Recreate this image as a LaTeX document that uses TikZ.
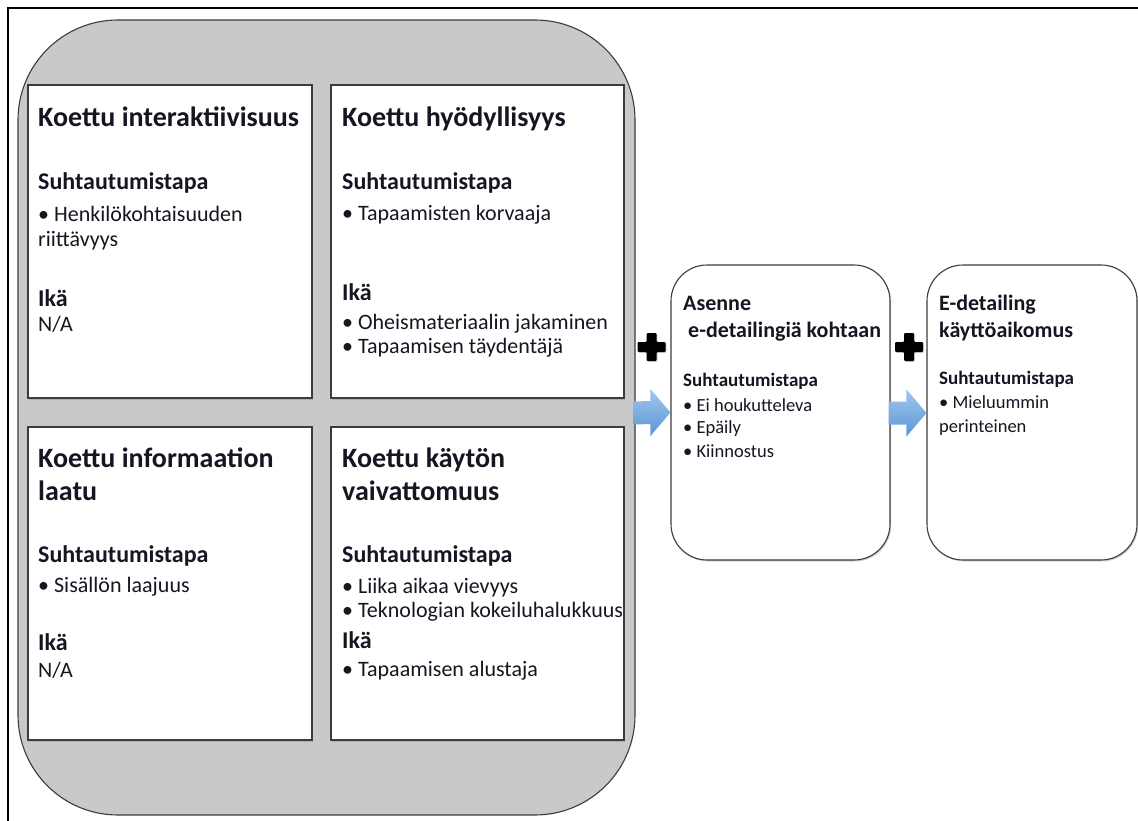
\documentclass[tikz,border=0pt]{standalone}
\usepackage{fontspec}
\setmainfont{Carlito}
\usetikzlibrary{shadows,calc}
\definecolor{panelgray}{RGB}{201,201,201}
\definecolor{edgegray}{RGB}{60,60,60}
\definecolor{txt}{RGB}{22,22,34}
\definecolor{arrowtop}{RGB}{160,198,238}
\definecolor{arrowbot}{RGB}{92,150,214}
\tikzset{
  panel/.style={draw=edgegray, line width=1.1pt, fill=panelgray, rounded corners=100pt, inner sep=0pt},
  card/.style={draw=edgegray, line width=1.1pt, fill=white, inner sep=0pt,
    drop shadow={opacity=0.35, shadow xshift=1.2pt, shadow yshift=-1.5pt}},
  rcard/.style={card, rounded corners=36pt},
  lbl/.style={anchor=base west, inner sep=0pt, text=txt},
  ttl/.style={lbl, font=\bfseries\fontsize{28}{32}\selectfont},
  sub/.style={lbl, font=\bfseries\fontsize{24}{28}\selectfont},
  itm/.style={lbl, font=\fontsize{22}{26}\selectfont},
  rttl/.style={lbl, font=\bfseries\fontsize{22}{26}\selectfont},
  rsub/.style={lbl, font=\bfseries\fontsize{19}{22}\selectfont},
  ritm/.style={lbl, font=\fontsize{18.5}{22}\selectfont},
  bluearrow/.style={top color=arrowtop, bottom color=arrowbot, draw=none},
  plusmark/.style={fill=black, rounded corners=1pt,
    drop shadow={opacity=0.3, shadow xshift=1pt, shadow yshift=-1pt}}
}
\begin{document}
\begin{tikzpicture}[x=1pt,y=-1pt]
\useasboundingbox (0,0) rectangle (1138,821);
\fill[white] (0,0) rectangle (1138,821);
\draw[line width=2.6pt, black] (8,821) -- (8,8) -- (1138,8);

% large grey panel
\node[panel, minimum width=617pt, minimum height=795pt] (big) at (326.5,417.5) {};

% four inner cards
\node[card, minimum width=284pt, minimum height=313pt] (c1) at (170,241.5) {};
\node[card, minimum width=293pt, minimum height=313pt] (c2) at (477.5,241.5) {};
\node[card, minimum width=284pt, minimum height=313pt] (c3) at (170,583.5) {};
\node[card, minimum width=293pt, minimum height=313pt] (c4) at (477.5,583.5) {};

% right cards
\node[rcard, minimum width=219pt, minimum height=295pt] (att) at (780.5,412.5) {};
\node[rcard, minimum width=210pt, minimum height=295pt] (use) at (1032,412.5) {};

% card 1
\node[ttl] (t1) at (38,127) {Koettu interaktiivisuus};
\node[sub] (s1) at (38,190) {Suhtautumistapa};
\node[itm] (i1a) at (38,222) {• Henkilökohtaisuuden};
\node[itm] (i1b) at (38,247) {riittävyys};
\node[sub] (k1) at (38,306) {Ikä};
\node[itm] (n1) at (38,331) {N/A};

% card 2
\node[ttl] (t2) at (342,127) {Koettu hyödyllisyys};
\node[sub] (s2) at (342,190) {Suhtautumistapa};
\node[itm] (i2a) at (342,221) {• Tapaamisten korvaaja};
\node[sub] (k2) at (342,300) {Ikä};
\node[itm] (i2b) at (342,329) {• Oheismateriaalin jakaminen};
\node[itm] (i2c) at (342,353) {• Tapaamisen täydentäjä};

% card 3
\node[ttl] (t3a) at (38,467) {Koettu informaation};
\node[ttl] (t3b) at (38,500) {laatu};
\node[sub] (s3) at (38,562) {Suhtautumistapa};
\node[itm] (i3a) at (38,592) {• Sisällön laajuus};
\node[sub] (k3) at (38,650) {Ikä};
\node[itm] (n3) at (38,677) {N/A};

% card 4
\node[ttl] (t4a) at (342,467) {Koettu käytön};
\node[ttl] (t4b) at (342,500) {vaivattomuus};
\node[sub] (s4) at (342,562) {Suhtautumistapa};
\node[itm] (i4a) at (342,593) {• Liika aikaa vievyys};
\node[itm] (i4b) at (342,617) {• Teknologian kokeiluhalukkuus};
\node[sub] (k4) at (342,648) {Ikä};
\node[itm] (i4c) at (342,676) {• Tapaamisen alustaja};

% attitude card
\node[rttl] (t5a) at (683,310) {Asenne};
\node[rttl] (t5b) at (688,337) {e-detailingiä kohtaan};
\node[rsub] (s5) at (683,386) {Suhtautumistapa};
\node[ritm] (i5a) at (683,411) {• Ei houkutteleva};
\node[ritm] (i5b) at (683,433) {• Epäily};
\node[ritm] (i5c) at (683,457) {• Kiinnostus};

% intention card
\node[rttl] (t6a) at (939,310) {E-detailing};
\node[rttl] (t6b) at (939,337) {käyttöaikomus};
\node[rsub] (s6) at (939,384) {Suhtautumistapa};
\node[ritm] (i6a) at (939,408) {• Mieluummin};
\node[ritm] (i6b) at (939,432) {perinteinen};

% arrows between the stages (tail at the left stage, tip at the next card)
\coordinate (a1s) at ($(big.east)+(-2,-4.5)$);
\coordinate (a1e) at (att.west);
\coordinate (a2s) at ($(att.east)+(-2,0.5)$);
\coordinate (a2e) at ($(use.west)+(0,0.5)$);
\shade[bluearrow] (a1s) ++(0,-11.5) -- ($(a1e)+(-20,-11.5)$) -- ($(a1e)+(-20,-23.5)$)
  -- (a1e) -- ($(a1e)+(-20,23.5)$) -- ($(a1e)+(-20,11.5)$) -- ($(a1s)+(0,11.5)$) -- cycle;
\shade[bluearrow] (a2s) ++(0,-11.5) -- ($(a2e)+(-20,-11.5)$) -- ($(a2e)+(-20,-23.5)$)
  -- (a2e) -- ($(a2e)+(-20,23.5)$) -- ($(a2e)+(-20,11.5)$) -- ($(a2s)+(0,11.5)$) -- cycle;

% plus signs
\coordinate (p1) at (651.5,347);
\coordinate (p2) at (909,347);
\foreach \p in {p1,p2}{
  \fill[plusmark] (\p) ++(-14,-5) -- ++(9,0) -- ++(0,-9) -- ++(10,0) -- ++(0,9) -- ++(9,0)
    -- ++(0,10) -- ++(-9,0) -- ++(0,9) -- ++(-10,0) -- ++(0,-9) -- ++(-9,0) -- cycle;
}
\end{tikzpicture}
\end{document}
